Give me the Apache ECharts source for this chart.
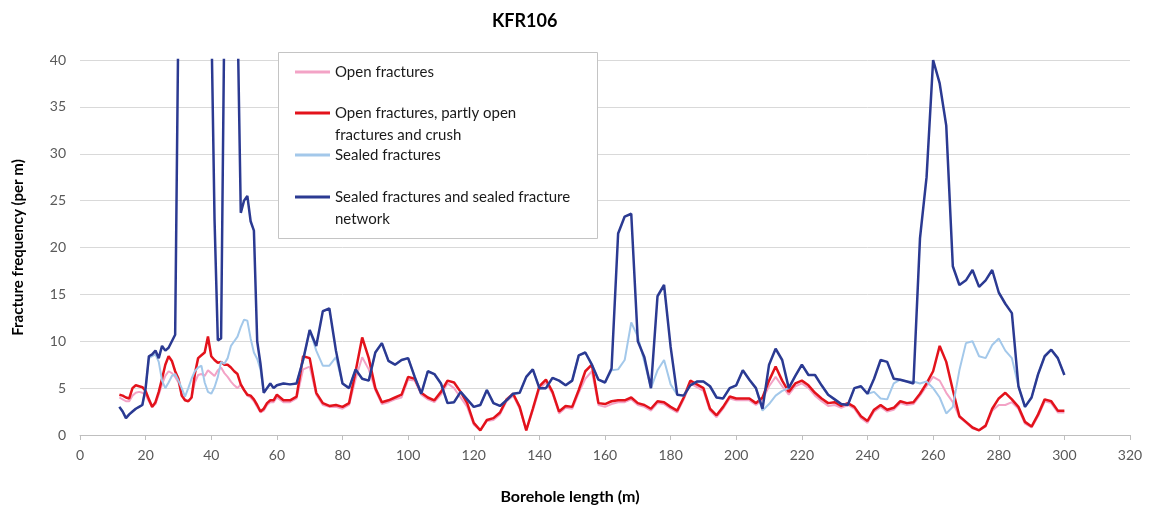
<!DOCTYPE html>
<html lang="en">
<head>
<meta charset="UTF-8">
<title>KFR106</title>
<script src="https://cdn.jsdelivr.net/npm/echarts@6/dist/echarts.min.js"></script>
<style>
  html, body { margin: 0; padding: 0; background: #fff; }
  #chart { width: 1154px; height: 513px; }
</style>
</head>
<body>
<div id="chart"></div>
<script>
// borehole length (m): 1 m steps to 60 m, 2 m steps after
var depth = [
  12,13,14,15,16,17,18,19,20,21,22,23,24,25,26,27,28,29,30,31,
  32,33,34,35,36,37,38,39,40,41,42,43,44,45,46,47,48,49,50,51,
  52,53,54,55,56,57,58,59,60,
  62,64,66,68,70,72,74,76,78,80,82,84,86,88,90,92,94,96,98,100,
  102,104,106,108,110,112,114,116,118,120,122,124,126,128,130,132,134,136,138,140,
  142,144,146,148,150,152,154,156,158,160,162,164,166,168,170,172,174,176,178,180,
  182,184,186,188,190,192,194,196,198,200,202,204,206,208,210,212,214,216,218,220,
  222,224,226,228,230,232,234,236,238,240,242,244,246,248,250,252,254,256,258,260,
  262,264,266,268,270,272,274,276,278,280,282,284,286,288,290,292,294,296,298,300
];

// fracture frequency (per m)
var openFrac = [
  4.0,3.8,3.6,3.6,4.2,4.5,4.6,4.5,4.3,3.6,
  3.0,3.3,4.3,5.4,6.3,6.8,6.6,6.2,5.6,4.3,
  3.8,3.6,4.0,5.6,6.4,6.5,6.3,6.9,6.6,6.3,
  6.9,7.2,6.6,6.2,5.7,5.3,5.0,5.4,4.8,4.2,
  4.0,3.6,3.0,2.4,2.6,3.2,3.5,3.5,4.0,
  3.5,3.5,3.9,7.0,7.3,4.3,3.2,3.0,3.0,2.8,
  3.2,6.0,8.3,7.0,4.8,3.3,3.5,3.8,4.0,5.9,
  5.8,4.3,3.8,3.5,4.3,5.5,5.0,4.0,3.0,1.1,
  0.5,1.5,1.6,2.2,3.6,4.2,2.8,0.5,2.6,4.9,
  5.6,4.4,2.3,2.9,2.8,4.5,6.0,6.8,3.2,3.0,
  3.3,3.5,3.5,3.8,3.2,3.0,2.6,3.4,3.3,2.8,
  2.4,3.8,5.5,5.1,4.7,2.6,1.9,2.8,3.9,3.7,
  3.7,3.7,3.2,3.8,5.2,6.2,5.2,4.3,5.2,5.5,
  5.0,4.2,3.6,3.1,3.2,2.9,3.2,2.8,1.8,1.3,
  2.5,3.0,2.5,2.7,3.4,3.2,3.3,4.2,5.2,6.2,
  5.8,4.5,3.5,1.9,1.3,0.7,0.5,0.9,2.6,3.2,
  3.2,3.5,2.8,1.2,0.8,2.0,3.6,3.4,2.4,2.4
];

var openCrush = [
  4.3,4.2,4.0,3.9,5.0,5.3,5.2,5.1,4.7,3.8,
  3.0,3.5,4.6,6.0,7.5,8.4,7.9,6.8,6.0,4.2,
  3.7,3.6,4.0,6.5,8.2,8.5,8.8,10.5,8.4,8.0,
  7.7,7.8,7.5,7.5,7.2,6.8,6.5,5.4,4.8,4.3,
  4.2,3.8,3.2,2.5,2.8,3.4,3.7,3.7,4.3,
  3.7,3.7,4.1,8.4,8.2,4.5,3.4,3.1,3.2,3.0,
  3.4,6.8,10.4,8.2,5.0,3.5,3.7,4.0,4.3,6.2,
  6.0,4.5,4.0,3.7,4.6,5.8,5.6,4.6,3.4,1.3,
  0.5,1.6,1.8,2.4,3.8,4.4,3.0,0.5,2.8,5.2,
  5.9,4.6,2.5,3.1,3.0,4.8,6.8,7.5,3.4,3.3,
  3.6,3.7,3.7,4.0,3.4,3.2,2.8,3.6,3.5,3.0,
  2.6,4.0,5.8,5.4,5.0,2.8,2.1,3.0,4.1,3.9,
  3.9,3.9,3.4,4.0,5.8,7.3,5.8,4.6,5.5,5.8,
  5.3,4.5,3.9,3.4,3.5,3.1,3.4,3.0,2.0,1.5,
  2.7,3.2,2.7,2.9,3.6,3.4,3.5,4.4,5.5,6.8,
  9.5,7.8,4.8,2.0,1.4,0.8,0.5,1.0,2.8,3.9,
  4.5,3.8,3.0,1.4,0.9,2.2,3.8,3.6,2.6,2.6
];

var sealed = [
  3.0,2.5,1.8,2.2,2.5,2.8,3.0,3.2,5.0,8.2,
  8.4,8.6,7.8,5.8,5.0,5.6,6.3,6.5,5.8,5.0,
  4.1,5.0,6.0,6.8,7.2,7.4,5.6,4.6,4.4,5.1,
  6.2,7.8,7.6,8.2,9.5,10.0,10.5,11.5,12.3,12.2,
  10.3,8.8,8.1,7.0,4.6,5.0,5.5,5.0,5.3,
  5.5,5.4,5.5,8.0,11.2,9.0,7.4,7.4,8.3,5.5,
  5.0,7.0,6.0,5.8,8.8,9.8,7.9,7.5,8.0,8.2,
  6.2,4.4,6.8,6.5,5.5,3.4,3.5,4.6,3.8,3.0,
  3.2,4.8,3.4,3.1,3.7,4.4,4.5,6.2,7.0,5.0,
  5.0,6.1,5.8,5.3,5.8,8.5,8.8,7.5,5.9,5.6,
  6.9,7.0,8.0,12.0,10.5,7.8,5.0,6.9,8.0,5.4,
  4.3,4.2,5.3,5.7,5.7,5.2,4.0,3.9,5.0,5.3,
  6.9,5.9,5.0,2.6,3.3,4.2,4.7,5.0,6.3,7.5,
  6.4,6.4,5.3,4.3,3.8,3.3,3.2,5.0,5.2,4.4,
  4.6,3.9,3.8,5.5,5.9,5.7,5.7,5.5,5.7,5.0,
  4.0,2.3,3.0,6.9,9.8,10.0,8.4,8.2,9.6,10.3,
  9.0,8.2,5.2,3.0,4.0,6.5,8.4,9.1,8.2,6.4
];

// values above 40 run off the top of the plot
var sealedNet = [
  3.0,2.5,1.8,2.2,2.5,2.8,3.0,3.2,5.0,8.4,
  8.6,9.0,8.2,9.5,9.0,9.3,10.0,10.7,45,45,
  45,45,45,45,45,45,45,45,45,23,
  10.1,10.3,45,45,45,45,45,23.7,25.0,25.5,
  22.8,21.8,10.0,7.6,4.5,5.0,5.5,5.0,5.3,
  5.5,5.4,5.5,8.0,11.2,9.5,13.2,13.5,9.0,5.5,
  5.0,7.0,6.0,5.8,8.8,9.8,7.9,7.5,8.0,8.2,
  6.2,4.4,6.8,6.5,5.5,3.4,3.5,4.6,3.8,3.0,
  3.2,4.8,3.4,3.1,3.7,4.4,4.5,6.2,7.0,5.0,
  5.0,6.1,5.8,5.3,5.8,8.5,8.8,7.5,5.9,5.6,
  7.1,21.5,23.3,23.6,10.0,8.3,5.0,14.8,16.0,9.4,
  4.3,4.2,5.3,5.7,5.7,5.2,4.0,3.9,5.0,5.3,
  6.9,5.9,5.0,2.8,7.5,9.2,8.0,5.0,6.3,7.5,
  6.4,6.4,5.3,4.3,3.8,3.3,3.2,5.0,5.2,4.4,
  6.0,8.0,7.8,6.0,5.9,5.7,5.5,21.0,27.5,40.0,
  37.5,33.0,18.0,16.0,16.5,17.6,15.8,16.5,17.6,15.2,
  14.0,13.0,5.2,3.0,4.0,6.5,8.4,9.1,8.2,6.4
];
</script>
<script type="text/javascript">
var seriesNames = [
  'Open fractures',
  'Open fractures, partly open\nfractures and crush',
  'Sealed fractures',
  'Sealed fractures and sealed fracture\nnetwork'
];
var seriesColors = ['#f3a3c6', '#e3121b', '#a3c8ea', '#2b3a92'];
var seriesWidths = [2, 2.5, 2, 2.5];
var seriesValues = [openFrac, openCrush, sealed, sealedNet];
// legend rows (px, centre of first text line)
var legendRows = [72, 113, 155, 197];
var LH = 22;

var chart = echarts.init(document.getElementById('chart'));

var series = [];
var legends = [];
for (var s = 0; s < seriesNames.length; s++) {
  var vals = seriesValues[s];
  var pts = [];
  for (var i = 0; i < depth.length; i++) {
    pts.push([depth[i], vals[i]]);
  }
  series.push({
    name: seriesNames[s],
    type: 'line',
    data: pts,
    symbol: 'none',
    showSymbol: false,
    clip: true,
    lineStyle: { color: seriesColors[s], width: seriesWidths[s] },
    itemStyle: { color: seriesColors[s] }
  });
  var twoLines = seriesNames[s].indexOf('\n') >= 0;
  // a blank first line keeps the sample line level with the first text line
  legends.push({
    data: [seriesNames[s]],
    left: 295,
    top: twoLines ? legendRows[s] - 1.5 * LH : legendRows[s] - 0.5 * LH,
    padding: 0,
    icon: 'rect',
    itemWidth: 35,
    itemHeight: 3,
    itemGap: 0,
    z: 200,
    selectedMode: false,
    formatter: twoLines ? function (n) { return ' \n' + n; } : '{name}',
    textStyle: {
      fontFamily: 'Lato',
      fontSize: 15,
      color: '#1a1a1a',
      lineHeight: LH
    }
  });
}

var option = {
  animation: false,
  backgroundColor: '#ffffff',
  title: {
    text: 'KFR106',
    left: 487,
    top: 7,
    textStyle: { fontFamily: 'Lato', fontSize: 18, fontWeight: 'bold', color: '#000' }
  },
  legend: legends,
  graphic: [{
    type: 'rect',
    z: 100,
    shape: { x: 278.5, y: 52.5, width: 319, height: 186 },
    style: { fill: '#ffffff', stroke: '#c4c4c4', lineWidth: 1 }
  }],
  grid: { left: 80, right: 24, top: 60, bottom: 78 },
  xAxis: {
    type: 'value',
    min: 0,
    max: 320,
    interval: 20,
    name: 'Borehole length (m)',
    nameLocation: 'middle',
    nameGap: 54,
    nameTextStyle: {
      fontFamily: 'Lato', fontSize: 16, fontWeight: 'bold', color: '#000',
      padding: [0, 70, 0, 0]
    },
    axisLine: { show: true, lineStyle: { color: '#bfbfbf', width: 1 } },
    axisTick: { show: true, length: 5, lineStyle: { color: '#bfbfbf' } },
    axisLabel: { fontFamily: 'Lato', fontSize: 14, color: '#595959', margin: 13 },
    splitLine: { show: false }
  },
  yAxis: {
    type: 'value',
    min: 0,
    max: 40,
    interval: 5,
    name: 'Fracture frequency (per m)',
    nameLocation: 'middle',
    nameGap: 54,
    nameTextStyle: { fontFamily: 'Lato', fontSize: 15, fontWeight: 'bold', color: '#000' },
    axisLine: { show: false },
    axisTick: { show: false },
    axisLabel: { fontFamily: 'Lato', fontSize: 14, color: '#595959', margin: 14 },
    splitLine: { show: true, lineStyle: { color: '#d9d9d9', width: 1 } }
  },
  series: series
};

chart.setOption(option);
</script>
</body>
</html>
